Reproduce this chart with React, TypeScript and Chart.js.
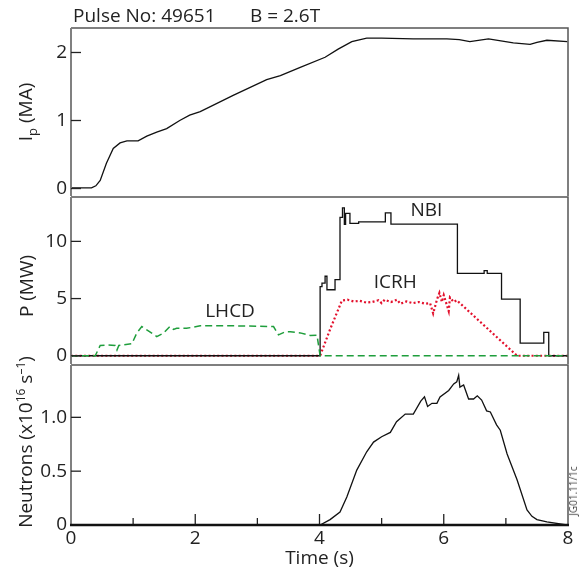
import React, { useEffect, useRef } from "react";
import { Chart, registerables } from "chart.js";
Chart.register(...registerables);

const FONT = "'Open Sans', 'DejaVu Sans', sans-serif";
const TXT = "#222";

// ---- Data ----
const ipT = [0, 0.33, 0.4, 0.47, 0.57, 0.68, 0.79, 0.9, 1.08, 1.22, 1.38, 1.54, 1.75, 1.91, 2.08, 2.61, 3.15, 3.37, 3.69, 4.09, 4.3, 4.52, 4.76, 5.0, 5.51, 6.05, 6.25, 6.42, 6.72, 7.12, 7.39, 7.5, 7.66, 7.99];
const ipV = [0.01, 0.01, 0.04, 0.12, 0.37, 0.59, 0.67, 0.7, 0.7, 0.77, 0.83, 0.88, 1.0, 1.08, 1.13, 1.37, 1.6, 1.66, 1.78, 1.93, 2.05, 2.16, 2.21, 2.21, 2.2, 2.2, 2.19, 2.16, 2.2, 2.14, 2.12, 2.15, 2.18, 2.16];

const nbiT = [0, 4.01, 4.04, 4.09, 4.12, 4.25, 4.33, 4.37, 4.4, 4.42, 4.49, 4.63, 5.06, 5.15, 6.22, 6.65, 6.7, 6.93, 7.23, 7.61, 7.69, 8];
const nbiP = [0, 6.05, 6.35, 6.95, 5.77, 6.65, 12.1, 12.93, 11.48, 12.44, 11.57, 11.71, 12.5, 11.5, 7.2, 7.45, 7.2, 4.95, 1.1, 2.05, 0, 0];

const icrhT = [0, 4.01, 4.17, 4.36, 4.45, 4.55, 4.65, 4.75, 4.85, 4.95, 5.0, 5.05, 5.15, 5.25, 5.3, 5.4, 5.5, 5.6, 5.7, 5.78, 5.83, 5.87, 5.89, 5.93, 5.97, 6.0, 6.04, 6.08, 6.1, 6.16, 6.21, 6.29, 7.18, 8];
const icrhP = [0, 0, 2.3, 4.82, 4.9, 4.75, 4.8, 4.65, 4.7, 4.85, 4.6, 4.9, 4.7, 4.9, 4.55, 4.75, 4.6, 4.7, 4.55, 4.6, 3.7, 4.5, 4.9, 5.5, 4.7, 5.3, 4.6, 3.9, 5.1, 4.7, 4.85, 4.45, 0, 0];

const lhcdT = [0, 0.39, 0.47, 0.6, 0.71, 0.74, 0.77, 0.98, 1.06, 1.14, 1.22, 1.38, 1.49, 1.59, 1.65, 1.7, 1.86, 2.08, 2.61, 3.26, 3.34, 3.45, 3.53, 3.69, 3.85, 3.96, 4.01, 8];
const lhcdP = [0, 0, 0.9, 0.95, 0.9, 0.5, 0.9, 1.05, 2.0, 2.55, 2.27, 1.68, 1.98, 2.55, 2.3, 2.4, 2.4, 2.62, 2.62, 2.55, 1.83, 2.1, 2.1, 2.0, 1.77, 1.8, 0, 0];

const neuT = [0, 4.01, 4.17, 4.33, 4.44, 4.6, 4.76, 4.87, 5.0, 5.14, 5.24, 5.38, 5.51, 5.63, 5.69, 5.74, 5.81, 5.89, 5.94, 6.08, 6.16, 6.21, 6.24, 6.26, 6.32, 6.4, 6.48, 6.54, 6.61, 6.69, 6.75, 6.85, 6.91, 7.02, 7.18, 7.34, 7.42, 7.5, 7.66, 7.98];
const neuV = [0, 0, 0.05, 0.12, 0.26, 0.51, 0.68, 0.77, 0.82, 0.86, 0.96, 1.03, 1.03, 1.15, 1.19, 1.1, 1.13, 1.13, 1.19, 1.25, 1.31, 1.33, 1.39, 1.28, 1.3, 1.17, 1.17, 1.2, 1.16, 1.06, 1.05, 0.93, 0.88, 0.66, 0.42, 0.14, 0.08, 0.05, 0.03, 0];

const ipTicks = [0, 1, 2];
const pTicks = [0, 5, 10];
const nTicks = [0, 0.5, 1.0];
const xLabelTicks = [0, 2, 4, 6, 8];
const xMajorInner = [2, 4, 6];
const xMinorInner = [1, 3, 5, 7];

const pts = (t: number[], v: number[]) => t.map((x, i) => ({ x, y: v[i] }));

const framePlugin = {
  id: "frame",
  afterDraw(chart: any, _args: any, opts: any) {
    const ctx = chart.ctx;
    const a = chart.chartArea;
    const ys = chart.scales.y;
    const xs = chart.scales.x;
    const L = a.left, R = a.right, T = a.top, B = a.bottom;
    ctx.save();
    ctx.setLineDash([]);
    ctx.globalAlpha = 1;
    // top & right frame
    ctx.strokeStyle = "#555555";
    ctx.lineWidth = 1.5;
    ctx.beginPath();
    ctx.moveTo(L, T);
    ctx.lineTo(R, T);
    ctx.lineTo(R, B);
    ctx.stroke();
    // left axis
    ctx.strokeStyle = "#808080";
    ctx.lineWidth = 2;
    ctx.beginPath();
    ctx.moveTo(L, T);
    ctx.lineTo(L, B + (opts.bottomAxis ? 1 : 0));
    ctx.stroke();
    // inner y ticks
    ctx.strokeStyle = "#222222";
    ctx.lineWidth = 1.3;
    ys.ticks.forEach((t: any) => {
      const py = ys.getPixelForValue(t.value);
      ctx.beginPath();
      ctx.moveTo(L, py);
      ctx.lineTo(L + 10, py);
      ctx.stroke();
    });
    if (opts.xTicks) {
      const drawT = (vals: number[], len: number) =>
        vals.forEach((v) => {
          const px = xs.getPixelForValue(v);
          ctx.beginPath();
          ctx.moveTo(px, B);
          ctx.lineTo(px, B - len);
          ctx.stroke();
        });
      drawT(xMajorInner, 11);
      drawT(xMinorInner, 7);
    }
    if (opts.bottomAxis) {
      ctx.strokeStyle = "#111111";
      ctx.lineWidth = 2.5;
      ctx.beginPath();
      ctx.moveTo(L - 1, B);
      ctx.lineTo(R + 1, B);
      ctx.stroke();
    }
    (opts.labels || []).forEach((l: any) => {
      ctx.font = `19px ${FONT}`;
      ctx.fillStyle = TXT;
      ctx.textAlign = "center";
      ctx.textBaseline = "middle";
      ctx.fillText(l.text, xs.getPixelForValue(l.x), ys.getPixelForValue(l.y));
    });
    ctx.restore();
  },
};

const tickFont = { family: FONT, size: 19 };

function yScale(min: number, max: number, vals: number[], fmt?: (v: number) => string) {
  return {
    type: "linear",
    min,
    max,
    afterBuildTicks: (s: any) => {
      s.ticks = vals.map((v) => ({ value: v }));
    },
    afterFit: (s: any) => {
      s.width = 71;
    },
    grid: { display: false, drawTicks: false },
    border: { display: false },
    ticks: {
      padding: 4,
      font: tickFont,
      color: TXT,
      callback: (v: number) => (fmt ? fmt(v) : String(v)),
    },
  };
}

function xScale(show: boolean) {
  const s: any = {
    type: "linear",
    min: 0,
    max: 8,
    display: show,
    afterBuildTicks: (sc: any) => {
      sc.ticks = xLabelTicks.map((v) => ({ value: v }));
    },
    grid: { display: false, drawTicks: false },
    border: { display: false },
    ticks: { padding: 2, font: tickFont, color: TXT, maxRotation: 0, autoSkip: false },
    title: { display: true, text: "Time (s)", font: tickFont, color: TXT, padding: 0 },
  };
  if (show) {
    s.afterFit = (sc: any) => {
      sc.height = 45;
    };
  }
  return s;
}

const lineDs = (data: any[], color: string, extra: any = {}) => ({
  data,
  borderColor: color,
  borderWidth: 1.3,
  pointRadius: 0,
  fill: false,
  tension: 0,
  ...extra,
});

function makeConfig(kind: number): any {
  const base = {
    type: "line",
    options: {
      animation: false,
      responsive: false,
      devicePixelRatio: 1,
      plugins: { legend: { display: false }, tooltip: { enabled: false } },
      events: [],
    },
    plugins: [framePlugin],
  } as any;
  if (kind === 0) {
    base.data = { datasets: [lineDs(pts(ipT, ipV), "#111")] };
    base.options.layout = { padding: { left: 0, right: 15, top: 28, bottom: 378 } };
    base.options.scales = { x: xScale(false), y: yScale(-0.11, 2.36, ipTicks) };
    base.options.plugins.frame = {};
  } else if (kind === 1) {
    base.data = {
      datasets: [
        lineDs(pts(lhcdT, lhcdP), "#1f9e3c", { borderDash: [7, 4], borderWidth: 1.5 }),
        lineDs(pts(nbiT, nbiP), "#111", { stepped: "before" }),
        lineDs(pts(icrhT, icrhP), "#e3102c", { borderDash: [2, 2.3], borderWidth: 2.2 }),
      ],
    };
    base.options.layout = { padding: { left: 0, right: 15, top: 197, bottom: 210 } };
    base.options.scales = { x: xScale(false), y: yScale(-0.72, 13.88, pTicks) };
    base.options.plugins.frame = {
      labels: [
        { text: "NBI", x: 5.72, y: 12.7 },
        { text: "ICRH", x: 5.22, y: 6.4 },
        { text: "LHCD", x: 2.56, y: 3.85 },
      ],
    };
  } else {
    base.data = { datasets: [lineDs(pts(neuT, neuV), "#111")] };
    base.options.layout = { padding: { left: 0, right: 15, top: 365, bottom: 4 } };
    base.options.scales = {
      x: xScale(true),
      y: yScale(0, 1.486, nTicks, (v) => (v === 0 ? "0" : v.toFixed(1))),
    };
    base.options.plugins.frame = { xTicks: true, bottomAxis: true };
  }
  return base;
}

const abs = (l: number, t: number): React.CSSProperties => ({
  position: "absolute",
  left: l,
  top: t,
  whiteSpace: "nowrap",
  fontFamily: FONT,
  fontSize: 19,
  color: TXT,
  lineHeight: "20px",
});

const rot = (cx: number, cy: number): React.CSSProperties => ({
  ...abs(cx, cy),
  transform: "translate(-50%, -50%) rotate(-90deg)",
});

export default function App() {
  const r0 = useRef<HTMLCanvasElement>(null);
  const r1 = useRef<HTMLCanvasElement>(null);
  const r2 = useRef<HTMLCanvasElement>(null);
  useEffect(() => {
    const charts = [r0, r1, r2].map((r, i) => new Chart(r.current as HTMLCanvasElement, makeConfig(i)));
    return () => charts.forEach((c) => c.destroy());
  }, []);
  const cStyle: React.CSSProperties = { position: "absolute", left: 0, top: 0 };
  return (
    <div style={{ position: "fixed", left: 0, top: 0, width: 583, height: 574, background: "#fff", overflow: "hidden" }}>
      <canvas ref={r0} width={583} height={574} style={cStyle} />
      <canvas ref={r1} width={583} height={574} style={cStyle} />
      <canvas ref={r2} width={583} height={574} style={cStyle} />
      <div style={abs(73, 5)}>Pulse No: 49651</div>
      <div style={abs(250, 5)}>B = 2.6T</div>
      <div style={rot(26, 112)}>
        I<span style={{ fontSize: 13, position: "relative", top: 5 }}>p</span> (MA)
      </div>
      <div style={rot(26, 286)}>P (MW)</div>
      <div style={rot(26, 442)}>
        Neutrons (x10<span style={{ fontSize: 12, position: "relative", top: -7 }}>16</span> s
        <span style={{ fontSize: 12, position: "relative", top: -7 }}>–1</span>)
      </div>
      <div style={{ ...rot(573, 491), fontSize: 10, color: "#444", lineHeight: "12px" }}>JG01.11/1c</div>
    </div>
  );
}
